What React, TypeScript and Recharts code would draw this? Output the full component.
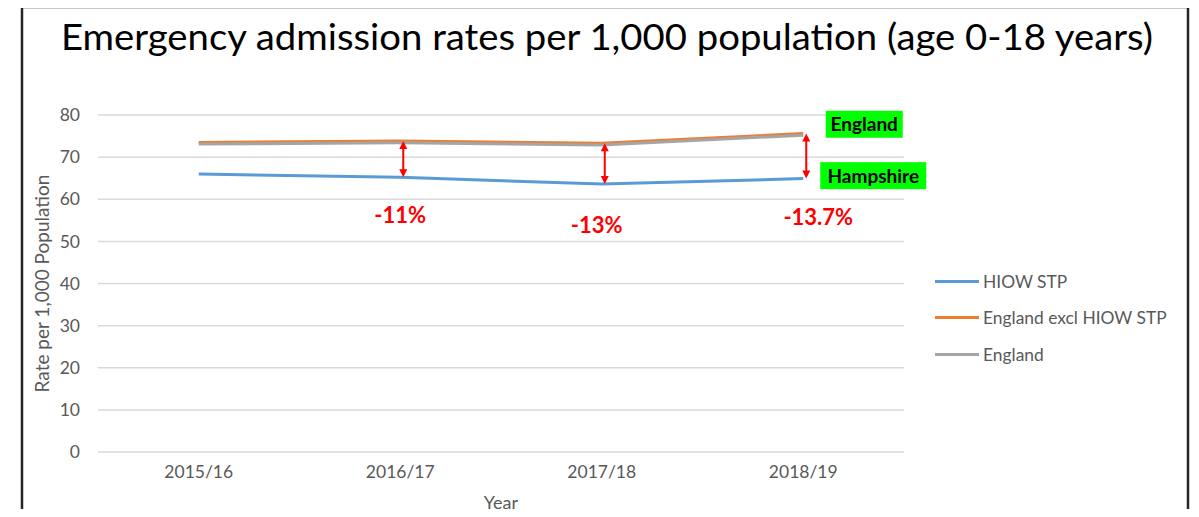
import { CartesianGrid, Legend, Line, LineChart, ReferenceDot, ReferenceLine, XAxis, YAxis } from 'recharts';

const FONT = 'Lato, "Open Sans", sans-serif';
const RED = '#FF0000';

const years = ['2015/16', '2016/17', '2017/18', '2018/19'];
const hiowStp = [66.0, 65.2, 63.6, 64.9];
const englandExcl = [73.5, 73.8, 73.3, 75.6];
const england = [73.1, 73.4, 72.9, 75.2];
const seriesNames = ['HIOW STP', 'England excl HIOW STP', 'England'];

const gapYears = ['2016/17', '2017/18', '2018/19'];
const gapLabels = ['-11%', '-13%', '-13.7%'];
const gapLabelY = [56.2, 53.8, 55.7];
const gapLabelDx = [0, -5, 15];

const data = years.map((year, i) => ({
  year,
  hiow: hiowStp[i],
  excl: englandExcl[i],
  eng: england[i],
}));

function GapArrow(props: any) {
  const { x1, y1, y2 } = props;
  const top = Math.min(y1, y2);
  const bottom = Math.max(y1, y2);
  const x = x1 + 3;
  return (
    <g>
      <line x1={x} y1={top + 6} x2={x} y2={bottom - 6} stroke={RED} strokeWidth={2} />
      <polygon points={`${x},${top} ${x - 4},${top + 8} ${x + 4},${top + 8}`} fill={RED} />
      <polygon points={`${x},${bottom} ${x - 4},${bottom - 8} ${x + 4},${bottom - 8}`} fill={RED} />
    </g>
  );
}

function TagBox({ cx, cy, dx, w, text }: { cx: number; cy: number; dx: number; w: number; text: string }) {
  const h = 27;
  const x = cx + dx;
  return (
    <g>
      <rect x={x - w / 2} y={cy - h / 2} width={w} height={h} fill="#00FF00" />
      <text x={x} y={cy + 7} textAnchor="middle" fontFamily={FONT} fontWeight={700} fontSize={19} fill="#000">
        {text}
      </text>
    </g>
  );
}

function LegendList({ payload }: any) {
  const items = [...(payload || [])].sort(
    (a: any, b: any) => seriesNames.indexOf(a.value) - seriesNames.indexOf(b.value),
  );
  return (
    <div style={{ fontFamily: FONT, fontSize: 17.4, color: '#595959' }}>
      {items.map((entry: any) => (
        <div key={entry.value} style={{ display: 'flex', alignItems: 'center', height: 36.5 }}>
          <span style={{ display: 'inline-block', width: 44, height: 3, background: entry.color, marginRight: 4 }} />
          <span>{entry.value}</span>
        </div>
      ))}
    </div>
  );
}

export default function App() {
  return (
    <div style={{ position: 'relative', margin: -8, width: 1199, height: 517, background: '#fff', overflow: 'hidden' }}>
      <LineChart
        width={1199}
        height={517}
        data={data}
        margin={{ top: 115, right: 295, bottom: 45, left: 38 }}
      >
        <CartesianGrid vertical={false} stroke="#D9D9D9" strokeWidth={1.5} />
        <XAxis
          dataKey="year"
          axisLine={false}
          tickLine={false}
          height={20}
          tickMargin={8}
          padding={{ left: 100.75, right: 100.75 }}
          tick={{ fill: '#595959', fontSize: 17.5, fontFamily: FONT }}
          label={{ value: 'Year', position: 'bottom', offset: 24, fill: '#595959', fontSize: 18, fontFamily: FONT }}
        />
        <YAxis
          domain={[0, 80]}
          ticks={[0, 10, 20, 30, 40, 50, 60, 70, 80]}
          axisLine={false}
          tickLine={false}
          width={60}
          tickMargin={12}
          tick={{ fill: '#595959', fontSize: 17.5, fontFamily: FONT }}
          label={{
            value: 'Rate per 1,000 Population',
            angle: -90,
            position: 'insideLeft',
            offset: 4,
            fill: '#595959',
            fontSize: 19,
            fontFamily: FONT,
            style: { textAnchor: 'middle' },
          }}
        />
        <Line name={seriesNames[0]} dataKey="hiow" stroke="#5B9BD5" strokeWidth={3} dot={false} isAnimationActive={false} />
        <Line name={seriesNames[1]} dataKey="excl" stroke="#ED7D31" strokeWidth={3} dot={false} isAnimationActive={false} />
        <Line name={seriesNames[2]} dataKey="eng" stroke="#A5A5A5" strokeWidth={3} dot={false} isAnimationActive={false} />
        {gapYears.map((yr) => {
          const i = years.indexOf(yr);
          return (
            <ReferenceLine
              key={`arrow-${yr}`}
              segment={[
                { x: yr, y: englandExcl[i] },
                { x: yr, y: hiowStp[i] },
              ]}
              shape={GapArrow}
            />
          );
        })}
        {gapYears.map((yr, k) => (
          <ReferenceDot
            key={`pct-${yr}`}
            x={yr}
            y={gapLabelY[k]}
            r={0}
            fill="none"
            stroke="none"
            label={{
              value: gapLabels[k],
              position: 'center',
              dx: gapLabelDx[k],
              fill: RED,
              fontSize: 22,
              fontWeight: 700,
              fontFamily: FONT,
            }}
          />
        ))}
        <ReferenceDot
          x="2018/19"
          y={77.8}
          r={0}
          shape={(p: any) => <TagBox cx={p.cx} cy={p.cy} dx={61} w={77} text="England" />}
        />
        <ReferenceDot
          x="2018/19"
          y={65.6}
          r={0}
          shape={(p: any) => <TagBox cx={p.cx} cy={p.cy} dx={70} w={106} text="Hampshire" />}
        />
        <Legend
          layout="vertical"
          align="center"
          verticalAlign="middle"
          content={LegendList}
          wrapperStyle={{ left: 935, top: 263, width: 260 }}
        />
      </LineChart>
      <svg
        width={1199}
        height={517}
        style={{ position: 'absolute', left: 0, top: 0, pointerEvents: 'none' }}
      >
        <polyline points="22,517 22,7 1188,7 1188,517" fill="none" stroke="#262626" strokeWidth={2.5} />
        <text x={61} y={50} fontFamily={FONT} fontSize={36} fill="#000" textLength={1092} lengthAdjust="spacingAndGlyphs">
          Emergency admission rates per 1,000 population (age 0-18 years)
        </text>
      </svg>
    </div>
  );
}
